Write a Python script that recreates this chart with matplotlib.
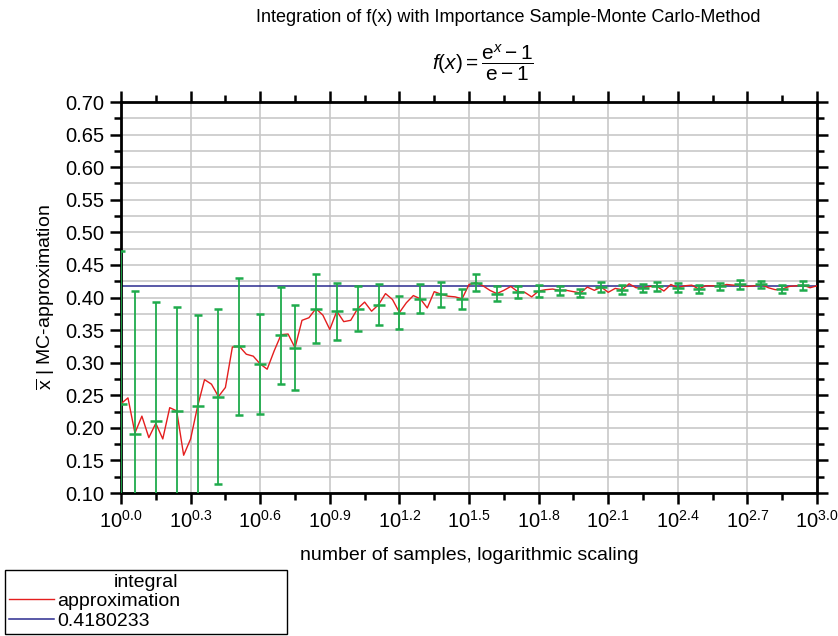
## Importance sampling Monte Carlo convergence plot

import numpy as np
import matplotlib
matplotlib.use("Agg")
import matplotlib.pyplot as plt
from matplotlib.ticker import FixedLocator, FuncFormatter

plt.rcParams['font.family'] = ['Liberation Sans', 'DejaVu Sans']
plt.rcParams['mathtext.fontset'] = 'custom'
plt.rcParams['mathtext.rm'] = 'Liberation Sans'
plt.rcParams['mathtext.it'] = 'Liberation Sans:italic'
plt.rcParams['mathtext.bf'] = 'Liberation Sans:bold'

## Data
samples = np.logspace(0, 3, 101)   # number of samples, 0.03 decade steps

approximation = [
    0.237, 0.246, 0.192, 0.218, 0.185, 0.207, 0.183, 0.231, 0.226, 0.158,
    0.183, 0.233, 0.274, 0.267, 0.248, 0.262, 0.324, 0.325, 0.313, 0.310,
    0.298, 0.290, 0.318, 0.343, 0.344, 0.323, 0.365, 0.369, 0.383, 0.373,
    0.351, 0.379, 0.363, 0.365, 0.383, 0.393, 0.379, 0.389, 0.406, 0.397,
    0.377, 0.392, 0.403, 0.398, 0.384, 0.409, 0.405, 0.402, 0.401, 0.398,
    0.420, 0.423, 0.418, 0.411, 0.406, 0.411, 0.417, 0.409, 0.408, 0.401,
    0.410, 0.412, 0.413, 0.411, 0.411, 0.409, 0.407, 0.416, 0.411, 0.416,
    0.408, 0.414, 0.412, 0.421, 0.415, 0.415, 0.417, 0.417, 0.410, 0.420,
    0.415, 0.418, 0.419, 0.413, 0.418, 0.418, 0.417, 0.420, 0.419, 0.419,
    0.417, 0.418, 0.420, 0.415, 0.412, 0.413, 0.417, 0.418, 0.419, 0.415,
    0.418,
]

err_idx = [0, 2, 5, 8, 11, 14, 17, 20, 23, 25, 28, 31, 34, 37, 40, 43, 46, 49,
           51, 54, 57, 60, 63, 66, 69, 72, 75, 77, 80, 83, 86, 89, 92, 95, 98]
err_mean = [0.236, 0.191, 0.210, 0.226, 0.233, 0.248, 0.325, 0.298, 0.342,
            0.323, 0.383, 0.379, 0.383, 0.389, 0.377, 0.398, 0.405, 0.398,
            0.423, 0.406, 0.409, 0.410, 0.411, 0.407, 0.416, 0.412, 0.415,
            0.417, 0.415, 0.413, 0.417, 0.420, 0.420, 0.413, 0.419]
err_sd = [0.236, 0.219, 0.183, 0.159, 0.140, 0.134, 0.105, 0.076, 0.074,
          0.065, 0.053, 0.044, 0.034, 0.031, 0.026, 0.022, 0.019, 0.015,
          0.013, 0.011, 0.009, 0.0085, 0.007, 0.0065, 0.0075, 0.007, 0.0065,
          0.0075, 0.007, 0.0065, 0.006, 0.0065, 0.006, 0.006, 0.007]

integral_value = 0.4180233

x_major_exp = [0.0, 0.3, 0.6, 0.9, 1.2, 1.5, 1.8, 2.1, 2.4, 2.7, 3.0]
x_minor_exp = [0.15, 0.45, 0.75, 1.05, 1.35, 1.65, 1.95, 2.25, 2.55, 2.85]

## Plot
fig = plt.figure(figsize=(8.38, 6.36), dpi=100)
ax = fig.add_axes([0.1444, 0.2248, 0.8306, 0.6148])

ax.axhline(integral_value, color='#2b2b8f', lw=1.1, label=str(integral_value), zorder=2)
ax.plot(samples, approximation, color='#e41e1e', lw=1.0, label='approximation', zorder=3)
eb = ax.errorbar(samples[err_idx], err_mean, yerr=err_sd, fmt='_', color='#1fab4c',
                 ms=8, mew=1.8, elinewidth=1.3, capsize=2.6, capthick=1.3, zorder=4)
# keep markers/caps inside the axes box
for art in [eb[0], *eb[1], *eb[2]]:
    art.set_clip_path(ax.patch)

ax.set_xscale('log')
ax.set_xlim(1, 1000)
ax.set_ylim(0.1, 0.7)

ax.xaxis.set_major_locator(FixedLocator([10**e for e in x_major_exp]))
ax.xaxis.set_minor_locator(FixedLocator([10**e for e in x_minor_exp]))
ax.xaxis.set_major_formatter(FuncFormatter(lambda v, p: r'$10^{%.1f}$' % np.log10(v)))
ax.xaxis.set_minor_formatter(FuncFormatter(lambda v, p: ''))
ax.set_yticks(np.arange(0.1, 0.701, 0.05))
ax.set_yticks(np.arange(0.125, 0.7, 0.05), minor=True)
ax.yaxis.set_major_formatter(FuncFormatter(lambda v, p: '%.2f' % v))

ax.grid(which='both', axis='y', color='#c8c8c8', lw=1.2, zorder=0)
ax.grid(which='major', axis='x', color='#c8c8c8', lw=1.2, zorder=0)
ax.set_axisbelow(True)

for s in ax.spines.values():
    s.set_linewidth(2.0)
ax.tick_params(which='both', direction='out', top=True, right=True, width=1.8,
               labelsize=14.5, pad=4)
ax.tick_params(which='major', length=8)
ax.tick_params(which='minor', length=5)

ax.set_xlabel('number of samples, logarithmic scaling', fontsize=14, labelpad=11)
ax.set_ylabel(r'$\overline{\mathrm{x}}$ | MC-approximation', fontsize=14, labelpad=6)

fig.text(0.606, 0.972, 'Integration of f(x) with Importance Sample-Monte Carlo-Method',
         ha='center', va='center', fontsize=13)
fig.text(0.576, 0.902, r'$f(x) = \dfrac{\mathrm{e}^x - 1}{\mathrm{e} - 1}$',
         ha='center', va='center', fontsize=15)

handles, labels = ax.get_legend_handles_labels()
leg = fig.legend(handles[::-1], labels[::-1], title='integral', loc='upper left',
                 bbox_to_anchor=(0.006, 0.104, 0.336, 0.0), mode='expand',
                 fontsize=14, title_fontsize=14, frameon=True, fancybox=False,
                 framealpha=1, edgecolor='black', borderpad=0.2, labelspacing=0.1,
                 handlelength=2.3, handletextpad=0.2, borderaxespad=0)
leg.get_frame().set_linewidth(1.0)

fig.savefig('out.png', dpi=100)
